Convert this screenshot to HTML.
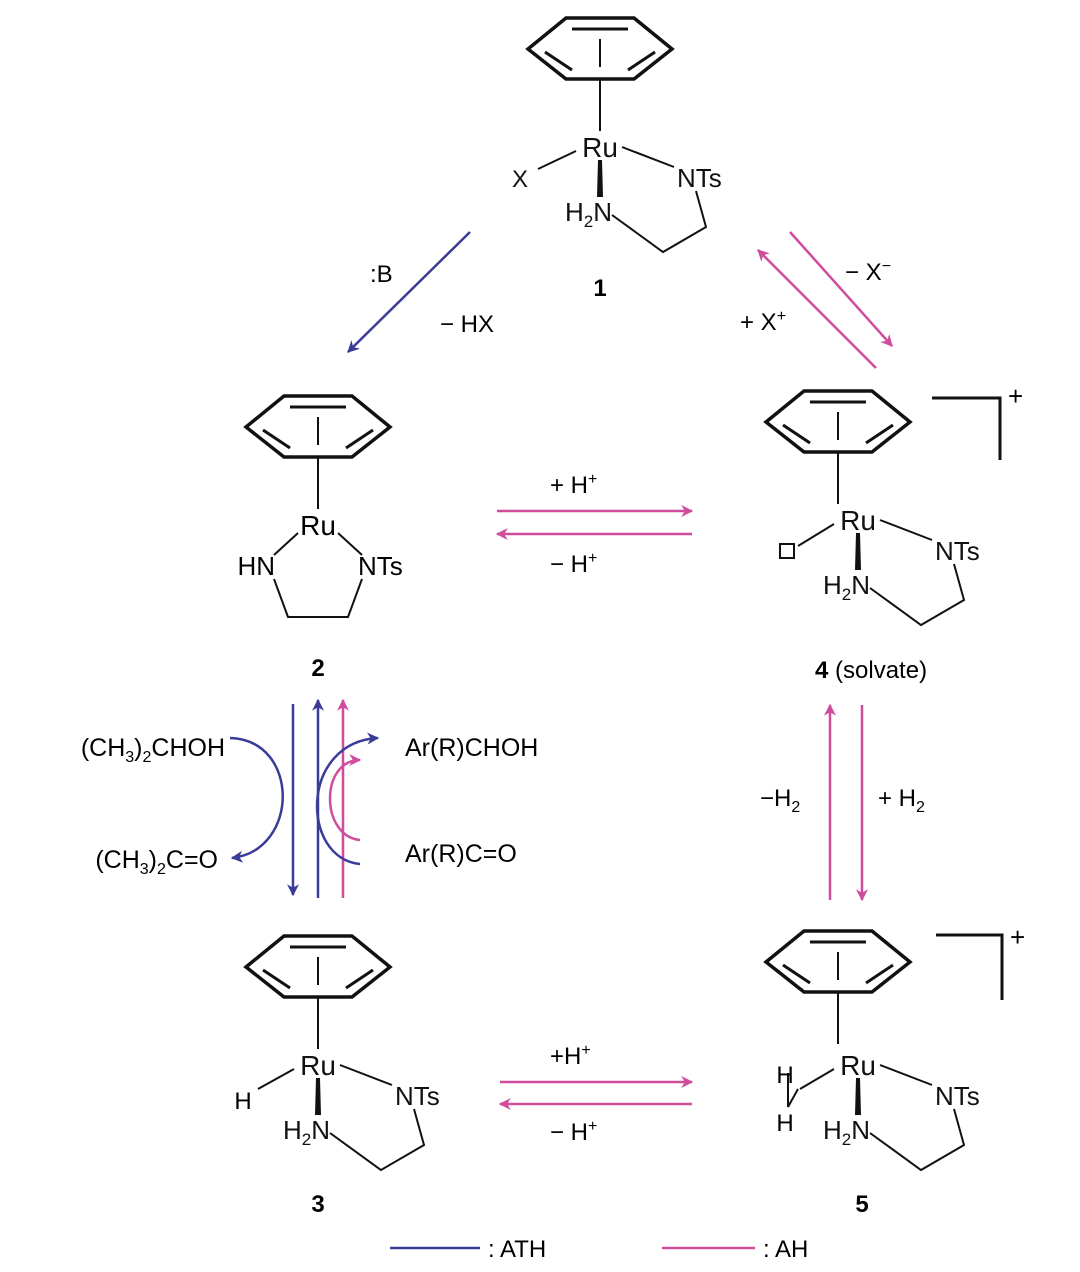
<!DOCTYPE html>
<html><head><meta charset="utf-8"><style>
html,body{margin:0;padding:0;background:#fff;}
svg{display:block;font-family:"Liberation Sans",sans-serif;}
</style></head><body>
<svg width="1080" height="1272" viewBox="0 0 1080 1272">
<defs>
<marker id="mb" viewBox="0 0 10 10" refX="9" refY="5" markerWidth="14" markerHeight="12" orient="auto-start-reverse" markerUnits="userSpaceOnUse"><path d="M0,0 L10,5 L0,10 L3,5Z" fill="#3b3b98"/></marker>
<marker id="mp" viewBox="0 0 10 10" refX="9" refY="5" markerWidth="14" markerHeight="12" orient="auto-start-reverse" markerUnits="userSpaceOnUse"><path d="M0,0 L10,5 L0,10 L3,5Z" fill="#d04c9c"/></marker>
<g id="benz" fill="none" stroke="#111">
<polygon points="-72,-108 -34,-139 34,-139 72,-108 34,-78 -34,-78" stroke-width="3.5"/>
<line x1="-28" y1="-128" x2="28" y2="-128" stroke-width="3"/>
<line x1="-55" y1="-105" x2="-28" y2="-87" stroke-width="3"/>
<line x1="55" y1="-105" x2="28" y2="-87" stroke-width="3"/>
<line x1="0" y1="-118" x2="0" y2="-90" stroke-width="2"/>
<line x1="0" y1="-78" x2="0" y2="-26" stroke-width="2"/>
</g>
<g id="tri" fill="none" stroke="#111" stroke-width="2">
<line x1="22" y1="-10" x2="74" y2="10"/>
<polygon points="-2,3 2,3 3,40 -3,40" fill="#111" stroke="none"/>
<polyline points="12,58 63,95 106,70 96,34"/>
<text x="0" y="0" text-anchor="middle" font-size="28" fill="#111" stroke="none">Ru</text>
<text x="77" y="30" font-size="26" fill="#111" stroke="none">NTs</text>
<text x="12" y="64" text-anchor="end" font-size="26" fill="#111" stroke="none">H<tspan font-size="17" dy="6">2</tspan><tspan dy="-6">N</tspan></text>
</g>
</defs>

<g transform="translate(600,157)">
<use href="#benz"/><use href="#tri"/>
<line x1="-62" y1="12" x2="-24" y2="-6" stroke="#111" stroke-width="2"/>
<text x="-80" y="30" text-anchor="middle" font-size="24" fill="#111">X</text>
</g>
<text x="600" y="296" text-anchor="middle" font-size="24" font-weight="bold">1</text>

<g transform="translate(318,535)">
<use href="#benz"/>
<text x="0" y="0" text-anchor="middle" font-size="28">Ru</text>
<g stroke="#111" stroke-width="2" fill="none">
<line x1="-20" y1="-2" x2="-44" y2="20"/>
<line x1="20" y1="-2" x2="44" y2="20"/>
<polyline points="-44,44 -30,82 30,82 44,44"/>
</g>
<text x="-43" y="40" text-anchor="end" font-size="26">HN</text>
<text x="40" y="40" font-size="26">NTs</text>
</g>
<text x="318" y="676" text-anchor="middle" font-size="24" font-weight="bold">2</text>

<g transform="translate(858,530)">
<use href="#benz" transform="translate(-20,0)"/>
<line x1="-20" y1="-78" x2="-20" y2="-26" stroke="#111" stroke-width="2"/>
<use href="#tri"/>
<line x1="-60" y1="16" x2="-24" y2="-6" stroke="#111" stroke-width="2"/>
<rect x="-78" y="14" width="14" height="14" fill="none" stroke="#111" stroke-width="2"/>
</g>
<polyline points="932,398 1000,398 1000,460" fill="none" stroke="#111" stroke-width="3"/>
<text x="1008" y="405" font-size="26">+</text>
<text x="815" y="678" font-size="24"><tspan font-weight="bold">4</tspan> (solvate)</text>

<g transform="translate(318,1075)">
<use href="#benz"/><use href="#tri"/>
<line x1="-60" y1="14" x2="-24" y2="-6" stroke="#111" stroke-width="2"/>
<text x="-75" y="34" text-anchor="middle" font-size="24">H</text>
</g>
<text x="318" y="1212" text-anchor="middle" font-size="24" font-weight="bold">3</text>

<g transform="translate(858,1075)">
<use href="#benz" transform="translate(-20,-5)"/>
<use href="#tri"/>
<line x1="-58" y1="14" x2="-24" y2="-6" stroke="#111" stroke-width="2"/>
<line x1="-70" y1="-2" x2="-70" y2="32" stroke="#111" stroke-width="2"/>
<line x1="-70" y1="32" x2="-60" y2="14" stroke="#111" stroke-width="2"/>
<text x="-73" y="8" text-anchor="middle" font-size="24">H</text>
<text x="-73" y="56" text-anchor="middle" font-size="24">H</text>
</g>
<polyline points="936,935 1002,935 1002,1000" fill="none" stroke="#111" stroke-width="3"/>
<text x="1010" y="946" font-size="26">+</text>
<text x="862" y="1212" text-anchor="middle" font-size="24" font-weight="bold">5</text>

<line x1="470" y1="232" x2="348" y2="352" stroke="#3b3b98" stroke-width="2.5" marker-end="url(#mb)"/>
<text x="370" y="282" font-size="24">:B</text>
<text x="440" y="332" font-size="24">− HX</text>
<line x1="790" y1="232" x2="892" y2="346" stroke="#d04c9c" stroke-width="2.5" marker-end="url(#mp)"/>
<line x1="876" y1="368" x2="758" y2="250" stroke="#d04c9c" stroke-width="2.5" marker-end="url(#mp)"/>
<text x="845" y="280" font-size="24">− X<tspan font-size="16" dy="-9">−</tspan></text>
<text x="740" y="330" font-size="24">+ X<tspan font-size="16" dy="-9">+</tspan></text>
<line x1="497" y1="511" x2="692" y2="511" stroke="#d04c9c" stroke-width="2.5" marker-end="url(#mp)"/>
<line x1="692" y1="534" x2="497" y2="534" stroke="#d04c9c" stroke-width="2.5" marker-end="url(#mp)"/>
<text x="550" y="493" font-size="24">+ H<tspan font-size="16" dy="-9">+</tspan></text>
<text x="550" y="572" font-size="24">− H<tspan font-size="16" dy="-9">+</tspan></text>
<line x1="500" y1="1082" x2="692" y2="1082" stroke="#d04c9c" stroke-width="2.5" marker-end="url(#mp)"/>
<line x1="692" y1="1104" x2="500" y2="1104" stroke="#d04c9c" stroke-width="2.5" marker-end="url(#mp)"/>
<text x="550" y="1064" font-size="24">+H<tspan font-size="16" dy="-9">+</tspan></text>
<text x="550" y="1140" font-size="24">− H<tspan font-size="16" dy="-9">+</tspan></text>
<line x1="830" y1="900" x2="830" y2="705" stroke="#d04c9c" stroke-width="2.5" marker-end="url(#mp)"/>
<line x1="862" y1="705" x2="862" y2="900" stroke="#d04c9c" stroke-width="2.5" marker-end="url(#mp)"/>
<text x="760" y="806" font-size="24">−H<tspan font-size="16" dy="6">2</tspan></text>
<text x="878" y="806" font-size="24">+ H<tspan font-size="16" dy="6">2</tspan></text>
<line x1="293" y1="704" x2="293" y2="895" stroke="#3b3b98" stroke-width="2.5" marker-end="url(#mb)"/>
<line x1="318" y1="898" x2="318" y2="700" stroke="#3b3b98" stroke-width="2.5" marker-end="url(#mb)"/>
<line x1="343" y1="898" x2="343" y2="700" stroke="#d04c9c" stroke-width="2.5" marker-end="url(#mp)"/>
<path d="M230,738 C300,740 300,850 232,858" fill="none" stroke="#3b3b98" stroke-width="2.5" marker-end="url(#mb)"/>
<path d="M360,864 C300,858 300,742 378,738" fill="none" stroke="#3b3b98" stroke-width="2.5" marker-end="url(#mb)"/>
<path d="M360,840 C320,836 320,760 360,760" fill="none" stroke="#d04c9c" stroke-width="2.5" marker-end="url(#mp)"/>
<text x="225" y="756" text-anchor="end" font-size="25">(CH<tspan font-size="16" dy="6">3</tspan><tspan dy="-6">)</tspan><tspan font-size="16" dy="6">2</tspan><tspan dy="-6">CHOH</tspan></text>
<text x="218" y="868" text-anchor="end" font-size="25">(CH<tspan font-size="16" dy="6">3</tspan><tspan dy="-6">)</tspan><tspan font-size="16" dy="6">2</tspan><tspan dy="-6">C=O</tspan></text>
<text x="405" y="756" font-size="25">Ar(R)CHOH</text>
<text x="405" y="862" font-size="25">Ar(R)C=O</text>
<line x1="390" y1="1248" x2="480" y2="1248" stroke="#3b3b98" stroke-width="2.5"/>
<text x="488" y="1257" font-size="24">: ATH</text>
<line x1="662" y1="1248" x2="755" y2="1248" stroke="#d04c9c" stroke-width="2.5"/>
<text x="763" y="1257" font-size="24">: AH</text>
</svg>
</body></html>
